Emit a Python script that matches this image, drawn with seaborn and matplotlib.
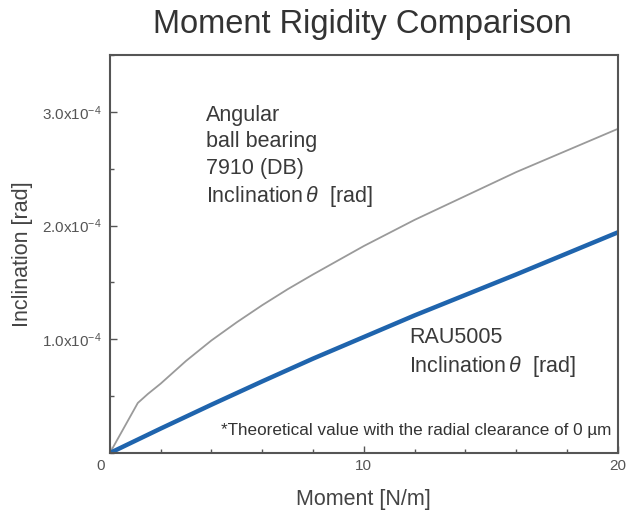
import numpy as np
import pandas as pd
import seaborn as sns
import matplotlib.pyplot as plt
import matplotlib.transforms as mtransforms
from matplotlib.ticker import MultipleLocator, FixedLocator

# values (inclination in units of 1e-4 rad)
momento_angular = [0, 1.1, 1.5, 2, 3, 4, 5, 6, 7, 8, 10, 12, 14, 16, 18, 20]
incl_angular = [0, 0.44, 0.52, 0.61, 0.81, 0.99, 1.15, 1.30, 1.44, 1.57,
                1.82, 2.05, 2.26, 2.47, 2.66, 2.85]

momento_rau = [0, 2, 4, 6, 8, 10, 12, 14, 16, 18, 20]
incl_rau = [0, 0.215, 0.425, 0.63, 0.83, 1.02, 1.21, 1.39, 1.57, 1.755, 1.94]

ytick_vals = [1.0, 2.0, 3.0]
ytick_labels = [r'1.0x10$^{-4}$', r'2.0x10$^{-4}$', r'3.0x10$^{-4}$']
xtick_vals = [0, 10, 20]
xtick_labels = ['0', '10', '20']

sns.set_style('white')
plt.rcParams['font.family'] = ['Liberation Sans', 'DejaVu Sans']
plt.rcParams['mathtext.fontset'] = 'custom'
plt.rcParams['mathtext.rm'] = 'Liberation Sans'
plt.rcParams['mathtext.it'] = 'Liberation Sans:italic'

df_ang = pd.DataFrame({'momento': momento_angular, 'incl': np.array(incl_angular) * 1e-4})
df_rau = pd.DataFrame({'momento': momento_rau, 'incl': np.array(incl_rau) * 1e-4})

fig = plt.figure(figsize=(6.35, 5.28), dpi=100)
ax = fig.add_axes([0.173, 0.142, 0.800, 0.754])

sns.lineplot(data=df_ang, x='momento', y='incl', ax=ax, color='#9a9a9a', linewidth=1.3)
sns.lineplot(data=df_rau, x='momento', y='incl', ax=ax, color='#1f64ad', linewidth=3.2)

ax.set_xlim(0, 20)
ax.set_ylim(0, 3.5e-4)

ax.xaxis.set_major_locator(FixedLocator(xtick_vals))
ax.set_xticklabels(xtick_labels)
ax.xaxis.set_minor_locator(MultipleLocator(2))
ax.yaxis.set_major_locator(FixedLocator([v * 1e-4 for v in ytick_vals]))
ax.set_yticklabels(ytick_labels)
ax.yaxis.set_minor_locator(MultipleLocator(0.5e-4))

ax.tick_params(axis='both', which='both', direction='in', colors='#555555',
               labelcolor='#555555', labelsize=11, bottom=True, left=True,
               top=False, right=False)
ax.tick_params(which='major', length=5, width=1)
ax.tick_params(which='minor', length=3, width=1)
ax.tick_params(axis='x', pad=4)
ax.tick_params(axis='y', pad=6)

# the "0" sits a little left of the origin in the reference
lbl0 = ax.get_xticklabels()[0]
lbl0.set_transform(lbl0.get_transform() +
                   mtransforms.ScaledTranslation(-0.09, 0, fig.dpi_scale_trans))

for s in ax.spines.values():
    s.set_color('#555555')
    s.set_linewidth(1.5)

ax.set_xlabel('Moment [N/m]', fontsize=15.5, color='#444444', labelpad=12)
ax.set_ylabel('Inclination [rad]', fontsize=15.5, color='#444444', labelpad=6)
fig.text(0.57, 0.954, 'Moment Rigidity Comparison', ha='center', va='center',
         fontsize=23.5, color='#333333')

ax.text(3.78, 2.60e-4,
        'Angular\nball bearing\n7910 (DB)\nInclination' + r'$\,\mathit{\theta}$' + '  [rad]',
        ha='left', va='center', fontsize=15.5, color='#3a3a3a', linespacing=1.32)
ax.text(11.77, 0.88e-4, 'RAU5005\nInclination' + r'$\,\mathit{\theta}$' + '  [rad]',
        ha='left', va='center', fontsize=15.5, color='#3a3a3a', linespacing=1.32)
ax.text(19.75, 0.20e-4, '*Theoretical value with the radial clearance of 0 \u00b5m',
        ha='right', va='center', fontsize=12.3, color='#333333')

fig.savefig('out.png', dpi=100)
